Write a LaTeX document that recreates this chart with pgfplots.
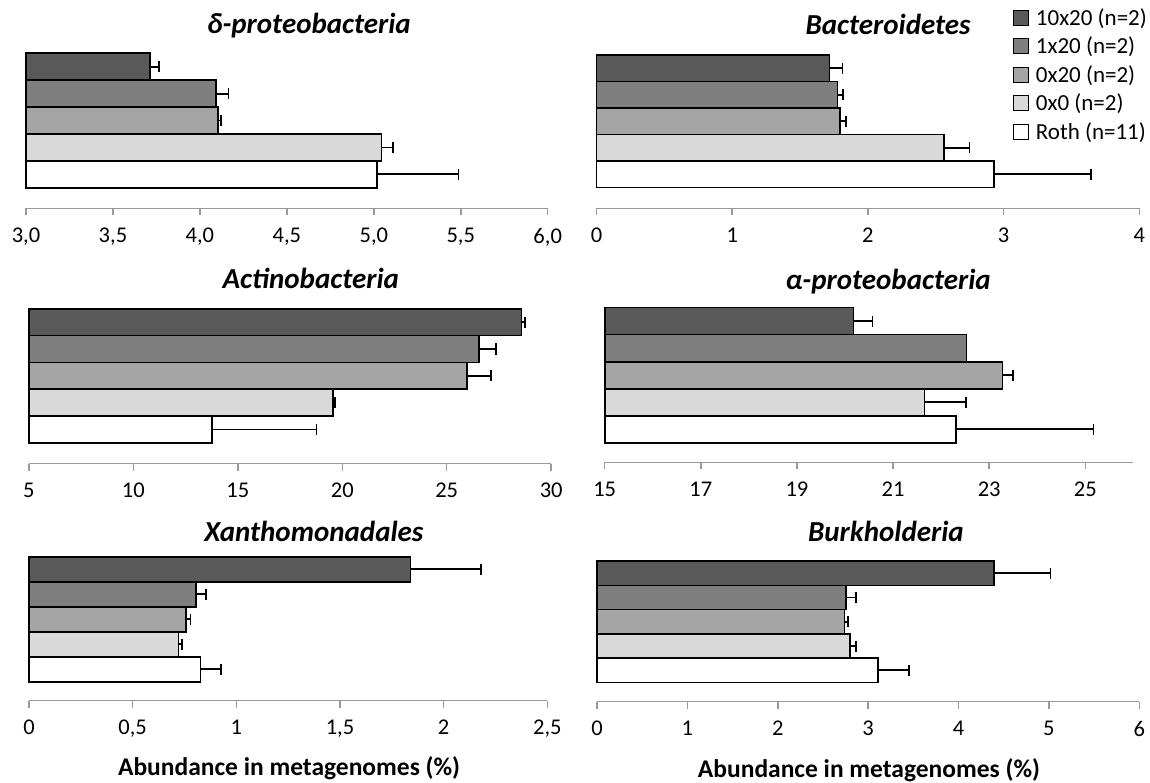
\documentclass[border=0pt]{standalone}
\usepackage{fontspec}
\setmainfont{Carlito}
\usepackage{pgfplots}
\pgfplotsset{compat=1.18}
\definecolor{cA}{HTML}{595959}
\definecolor{cB}{HTML}{7F7F7F}
\definecolor{cC}{HTML}{A5A5A5}
\definecolor{cD}{HTML}{D9D9D9}
\definecolor{cE}{HTML}{FFFFFF}
\definecolor{axgray}{HTML}{9A9A9A}
\pgfplotsset{
  panel/.style={
    scale only axis, anchor=south west,
    xbar, bar shift=0pt,
    axis x line*=bottom, axis y line=none,
    ytick=\empty, ymax=4.5,
    clip=false,
    x axis line style={axgray, line width=1.5pt},
    xtick style={axgray, line width=1.5pt},
    tick align=outside, major tick length=7pt,
    xticklabel style={font=\fontsize{22.5}{27}\selectfont, text=black, yshift=-9pt},
    enlarge x limits=false,
    legend image code/.code={\draw[##1, line width=1pt] (0pt,0pt) rectangle (15pt,15pt);},
  },
  nb/.style={draw=black, line width=1.6pt},
  eb/.style={draw=black, line width=1.6pt,
    error bars/.cd, x dir=plus, x explicit, error mark=|,
    error bar style={black, line width=1.8pt},
    error mark options={black, line width=1.8pt, mark size=5.5pt}},
}
\begin{document}
\begin{tikzpicture}
\useasboundingbox (0pt,0pt) rectangle (1150pt,782pt);

% P1 delta-proteobacteria
\begin{axis}[panel, at={(26pt,573.7pt)}, width=521.7pt, height=155pt, bar width=26.9pt,
  ymin=-1.262, xmin=0, xmax=3, x filter/.expression={x-3},
  xtick={0,0.5,1,1.5,2,2.5,3}, xticklabels={{3,0},{3,5},{4,0},{4,5},{5,0},{5,5},{6,0}}]
\addplot[fill=cA, eb] coordinates {(3.713,4) +- (0.053,0)};
\addplot[fill=cB, eb] coordinates {(4.092,3) +- (0.073,0)};
\addplot[fill=cC, eb] coordinates {(4.103,2) +- (0.019,0)};
\addplot[fill=cD, eb] coordinates {(5.044,1) +- (0.068,0)};
\addplot[fill=cE, eb] coordinates {(5.018,0) +- (0.469,0)};
\end{axis}

% P2 Bacteroidetes
\begin{axis}[panel, at={(596.5pt,573.7pt)}, width=542.8pt, height=153.3pt, bar width=26.5pt,
  ymin=-1.285, xmin=0, xmax=4,
  xtick={0,1,2,3,4}, xticklabels={0,1,2,3,4},
  legend style={draw=none, fill=none, at={(axis description cs:0.7668,1.327)}, anchor=north west,
    font=\fontsize{23}{28}\selectfont, row sep=0pt, inner sep=0pt,
    nodes={inner sep=0pt, text height=20pt, text depth=8.6pt, anchor=base west},
    /tikz/every odd column/.append style={column sep=7pt}},
  legend cell align=left]
\addplot[fill=cA, eb] coordinates {(1.718,4) +- (0.094,0)};
\addplot[fill=cB, eb] coordinates {(1.777,3) +- (0.040,0)};
\addplot[fill=cC, eb] coordinates {(1.793,2) +- (0.046,0)};
\addplot[fill=cD, eb] coordinates {(2.561,1) +- (0.188,0)};
\addplot[fill=cE, eb] coordinates {(2.930,0) +- (0.713,0)};
\legend{10x20 (n=2),1x20 (n=2),0x20 (n=2),0x0 (n=2),Roth (n=11)}
\end{axis}

% P3 Actinobacteria
\begin{axis}[panel, at={(28.9pt,318.5pt)}, width=522.3pt, height=154.7pt, bar width=26.8pt,
  ymin=-1.272, xmin=0, xmax=25, x filter/.expression={x-5},
  xtick={0,5,10,15,20,25}, xticklabels={5,10,15,20,25,30}]
\addplot[fill=cA, eb] coordinates {(28.58,4) +- (0.15,0)};
\addplot[fill=cB, eb] coordinates {(26.55,3) +- (0.79,0)};
\addplot[fill=cC, eb] coordinates {(25.96,2) +- (1.15,0)};
\addplot[fill=cD, eb] coordinates {(19.55,1) +- (0.11,0)};
\addplot[fill=cE, eb] coordinates {(13.76,0) +- (5.01,0)};
\end{axis}

% P4 alpha-proteobacteria
\begin{axis}[panel, at={(604.7pt,319.5pt)}, width=528.7pt, height=154.8pt, bar width=27pt,
  ymin=-1.233, xmin=0, xmax=11, x filter/.expression={x-15},
  xtick={0,2,4,6,8,10}, xticklabels={15,17,19,21,23,25}]
\addplot[fill=cA, eb] coordinates {(20.18,4) +- (0.39,0)};
\addplot[fill=cB, nb] coordinates {(22.53,3)};
\addplot[fill=cC, eb] coordinates {(23.28,2) +- (0.21,0)};
\addplot[fill=cD, eb] coordinates {(21.65,1) +- (0.87,0)};
\addplot[fill=cE, eb] coordinates {(22.31,0) +- (2.86,0)};
\end{axis}

% P5 Xanthomonadales
\begin{axis}[panel, at={(29pt,81.3pt)}, width=518.3pt, height=144pt, bar width=25pt,
  ymin=-1.26, xmin=0, xmax=2.5,
  xtick={0,0.5,1,1.5,2,2.5}, xticklabels={0,{0,5},1,{1,5},2,{2,5}}]
\addplot[fill=cA, eb] coordinates {(1.840,4) +- (0.339,0)};
\addplot[fill=cB, eb] coordinates {(0.806,3) +- (0.048,0)};
\addplot[fill=cC, eb] coordinates {(0.758,2) +- (0.021,0)};
\addplot[fill=cD, eb] coordinates {(0.722,1) +- (0.016,0)};
\addplot[fill=cE, eb] coordinates {(0.827,0) +- (0.100,0)};
\end{axis}

% P6 Burkholderia
\begin{axis}[panel, at={(597pt,80.5pt)}, width=542.3pt, height=140.5pt, bar width=24.3pt,
  ymin=-1.28, xmin=0, xmax=6,
  xtick={0,1,2,3,4,5,6}, xticklabels={0,1,2,3,4,5,6}]
\addplot[fill=cA, eb] coordinates {(4.392,4) +- (0.626,0)};
\addplot[fill=cB, eb] coordinates {(2.757,3) +- (0.109,0)};
\addplot[fill=cC, eb] coordinates {(2.737,2) +- (0.041,0)};
\addplot[fill=cD, eb] coordinates {(2.798,1) +- (0.068,0)};
\addplot[fill=cE, eb] coordinates {(3.109,0) +- (0.343,0)};
\end{axis}

% titles
\tikzset{ttl/.style={anchor=base, inner sep=0pt, font=\fontsize{29}{33}\selectfont\bfseries\itshape},
         xl/.style={anchor=base, inner sep=0pt, font=\fontsize{25.5}{30}\selectfont\bfseries}}
\node[ttl] at (308.9pt,748.7pt) {δ-proteobacteria};
\node[ttl] at (888.1pt,747pt) {Bacteroidetes};
\node[ttl] at (310.8pt,493.7pt) {Actinobacteria};
\node[ttl] at (888.1pt,492pt) {α-proteobacteria};
\node[ttl] at (313.9pt,240.3pt) {Xanthomonadales};
\node[ttl] at (885.9pt,240.3pt) {Burkholderia};
\node[xl] at (289.1pt,7pt) {Abundance in metagenomes (\%)};
\node[xl] at (869pt,5pt) {Abundance in metagenomes (\%)};
\end{tikzpicture}
\end{document}
